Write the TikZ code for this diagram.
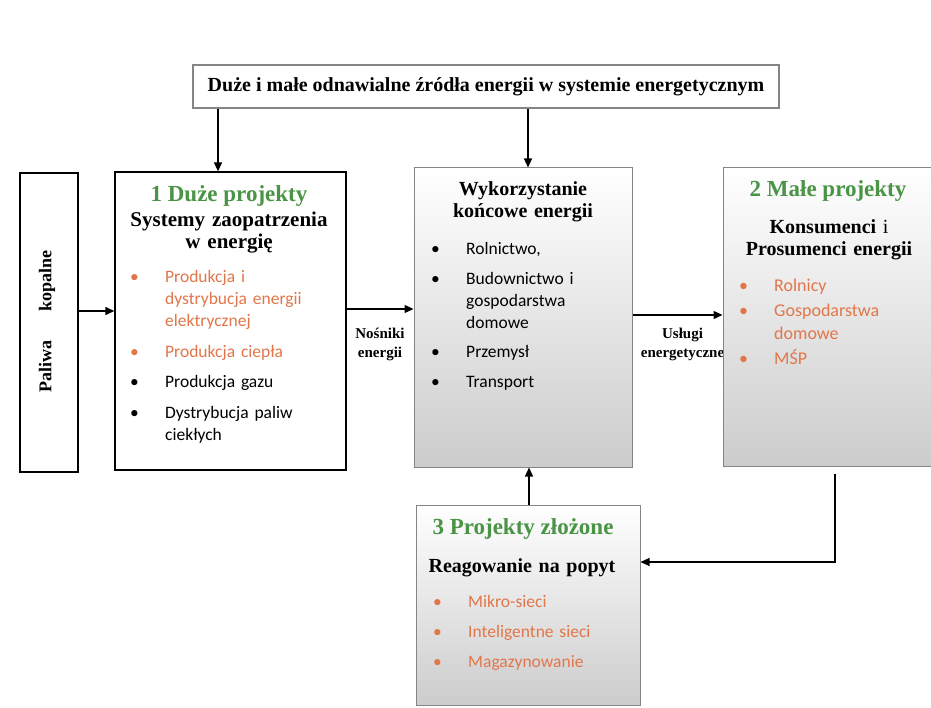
\documentclass[tikz,border=0pt]{standalone}
\usepackage{fontspec}
\setmainfont{Liberation Serif}
\newfontfamily\calibri{Carlito}
\usepackage{xcolor}
\usetikzlibrary{arrows.meta,positioning,calc}
\definecolor{projgreen}{HTML}{4A9446}
\definecolor{itemorange}{HTML}{E2764A}
\definecolor{frame}{HTML}{858585}
\newlength{\bulletindent}
\setlength{\bulletindent}{35pt}
\newcommand{\punkt}[2][black]{\raggedright\hangindent=\bulletindent\hangafter=1\noindent
  \makebox[\bulletindent][l]{\textcolor{#1}{\textbullet}}\textcolor{#1}{#2}\par}
\tikzset{
  >={Triangle[length=9pt,width=8pt]},
  flow/.style={->,draw=black,line width=1.3pt},
  plainbox/.style={draw=black,line width=1.3pt,fill=white},
  shadebox/.style={draw=frame,line width=1pt,top color=white,middle color=white,bottom color=black!20},
  topbox/.style={draw=frame,line width=1.2pt,fill=white,font=\bfseries\fontsize{20}{22}\selectfont},
  projtitle/.style={anchor=base,inner sep=0pt,text=projgreen,font=\bfseries\fontsize{23}{26}\selectfont},
  subtitle/.style={anchor=base,inner sep=0pt,text width=200pt,align=center,
                   font=\bfseries\fontsize{20}{21.5}\selectfont},
  itemlist/.style={anchor=base west,inner sep=0pt,text width=200pt,
                   font=\calibri\fontsize{17.5}{22}\selectfont},
  labeltext/.style={anchor=base,inner sep=0pt,text width=90pt,align=center,
                    font=\bfseries\fontsize{15}{19}\selectfont},
  rotlabel/.style={rotate=90,inner sep=0pt,font=\bfseries\fontsize{18}{20}\selectfont},
}
\begin{document}
\begin{tikzpicture}[x=1pt,y=-1pt]
  \useasboundingbox (0,0) rectangle (931,708);
  % ramki
  \node[topbox,minimum width=586pt,minimum height=43pt] (oze) at (486,86.5)
      {Duże i małe odnawialne źródła energii w systemie energetycznym};
  \node[plainbox,minimum width=58pt,minimum height=299pt] (paliwa) at (49,322.5) {};
  \node[plainbox,minimum width=231pt,minimum height=298pt] (duze) at (230.5,321) {};
  \node[shadebox,minimum width=218pt,minimum height=299pt] (uzycie) at (523,317.5) {};
  \node[labeltext] (uslugi) at (682.5,338) {Usługi\\energetyczne};
  \node[shadebox,minimum width=217pt,minimum height=298pt] (male) at (831.5,317) {};
  \node[shadebox,minimum width=224pt,minimum height=200pt] (zlozone) at (528,605) {};
  % teksty
  \node[rotlabel] (paliwaText) at (47,321.5) {Paliwa\hspace{29pt}kopalne};
  \node[projtitle] (duzeTitle) at (229,202) {1 Duże projekty};
  \node[subtitle,font=\bfseries\fontsize{21}{21.5}\selectfont] (duzeSub) at (229,227) {Systemy zaopatrzenia\\w energię};
  \node[itemlist] (duzeList) at (130,283) {\parskip=8.5pt
    \punkt[itemorange]{Produkcja i\newline dystrybucja energii\newline elektrycznej}
    \punkt[itemorange]{Produkcja ciepła}
    \punkt{Produkcja gazu}
    \punkt{Dystrybucja paliw\newline ciekłych}};
  \node[subtitle] (uzycieSub) at (523,196) {Wykorzystanie\\końcowe energii};
  \node[itemlist] (uzycieList) at (431,255) {\parskip=7.5pt
    \punkt{Rolnictwo,}
    \punkt{Budownictwo i\newline gospodarstwa\newline domowe}
    \punkt{Przemysł}
    \punkt{Transport}};
  \node[projtitle] (maleTitle) at (828,197) {2 Małe projekty};
  \node[subtitle] (maleSub) at (829,234) {Konsumenci \textmd{i}\\Prosumenci energii};
  \node[itemlist,font=\calibri\fontsize{18}{23}\selectfont] (maleList) at (739,292) {\parskip=2pt
    \punkt[itemorange]{Rolnicy}
    \punkt[itemorange]{Gospodarstwa\newline domowe}
    \punkt[itemorange]{MŚP}};
  \node[projtitle] (zlozoneTitle) at (523,534) {3 Projekty złożone};
  \node[subtitle] (zlozoneSub) at (522,572) {Reagowanie na popyt};
  \node[itemlist] (zlozoneList) at (433,607) {\parskip=8pt
    \punkt[itemorange]{Mikro-sieci}
    \punkt[itemorange]{Inteligentne sieci}
    \punkt[itemorange]{Magazynowanie}};
  \node[labeltext] (nosniki) at (380,338) {Nośniki\\energii};
  % strzalki
  \draw[flow] (oze.south -| 218,0) -- (duze.north -| 218,0);
  \draw[flow] (oze.south -| 528,0) -- (uzycie.north -| 528,0);
  \draw[flow] (paliwa.east |- 0,311) -- (duze.west |- 0,311);
  \draw[flow] (duze.east |- 0,309) -- (uzycie.west |- 0,309);
  \draw[flow] (uzycie.east |- 0,315) -- (male.west |- 0,315);
  \draw[flow] (zlozone.north -| 529,0) -- (uzycie.south -| 529,0);
  \draw[flow] ([yshift=-7pt]male.south -| 835,0) |- (zlozone.east |- 0,562);
\end{tikzpicture}
\end{document}
